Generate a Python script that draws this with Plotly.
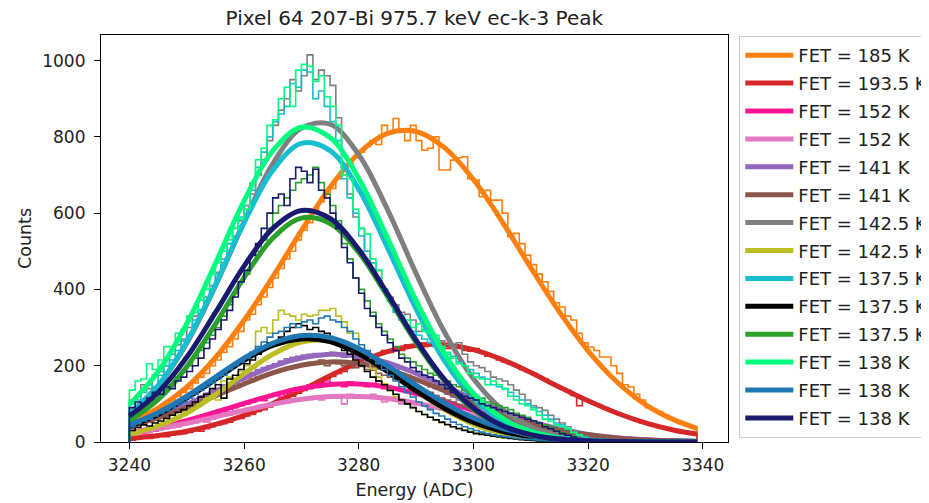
import plotly.graph_objects as go

# ---------------- data ----------------
HIST_START = 3240  # left edge of first 1-ADC bin
FIT_X = [3240, 3245, 3250, 3255, 3260, 3265, 3270, 3275, 3280, 3285, 3290,
         3295, 3300, 3305, 3310, 3315, 3320, 3325, 3330, 3335, 3339]

LABELS = ["FET = 185 K", "FET = 193.5 K", "FET = 152 K", "FET = 152 K",
          "FET = 141 K", "FET = 141 K", "FET = 142.5 K", "FET = 142.5 K",
          "FET = 137.5 K", "FET = 137.5 K", "FET = 137.5 K", "FET = 138 K",
          "FET = 138 K", "FET = 138 K"]
COLORS = ["#ff7f0e", "#d62728", "#ff1493", "#e377c2", "#9467bd", "#8c564b",
          "#7f7f7f", "#bcbd22", "#17becf", "#000000", "#2ca02c", "#00ff7f",
          "#1f77b4", "#191970"]

X_TICKS = [3240, 3260, 3280, 3300, 3320, 3340]
Y_TICKS = [0, 200, 400, 600, 800, 1000]

# histogram counts (1 ADC bins starting at 3240)
OR_HIST = [45, 60, 58, 70, 80, 88, 95, 110, 120, 130,
           140, 155, 170, 180, 200, 215, 235, 250, 270, 290,
           320, 335, 360, 380, 405, 430, 455, 480, 500, 530,
           555, 575, 600, 630, 650, 665, 690, 700, 730, 745,
           760, 775, 790, 780, 830, 810, 848, 820, 790, 830,
           790, 765, 770, 800, 713, 713, 739, 745, 748, 690,
           687, 643, 660, 634, 634, 600, 538, 547, 520, 490,
           465, 440, 420, 395, 365, 354, 330, 320, 285, 260,
           249, 240, 223, 223, 200, 180, 150, 144, 125, 110,
           90, 85, 80, 70, 62, 55, 48, 42, 38]
RD_HIST = [5, 8, 10, 9, 12, 15, 14, 18, 20, 22,
           25, 30, 28, 35, 40, 45, 48, 52, 60, 62,
           68, 72, 80, 85, 92, 100, 105, 112, 120, 128,
           135, 140, 150, 155, 165, 172, 180, 185, 195, 200,
           210, 215, 220, 228, 240, 235, 245, 240, 255, 250,
           260, 250, 255, 258, 250, 245, 255, 248, 240, 238,
           245, 235, 225, 225, 215, 210, 205, 200, 190, 185,
           180, 170, 165, 155, 148, 140, 135, 122, 95, 110,
           105, 100, 92, 85, 80, 72, 68, 62, 55, 50,
           48, 42, 38, 35, 32, 28, 25, 22, 20]
DP_HIST = [20, 25, 22, 30, 28, 35, 40, 38, 45, 48,
           55, 52, 60, 65, 70, 75, 80, 78, 90, 95,
           100, 105, 110, 108, 120, 125, 118, 130, 135, 140,
           138, 150, 145, 148, 160, 150, 155, 145, 158, 150,
           155, 145, 150, 160, 140, 145, 138, 135, 130, 128,
           125, 120, 118, 110, 108, 105, 100, 95, 90, 85,
           82, 78, 72, 68, 62, 60, 55, 50, 45, 42,
           40, 36, 32, 30, 27, 24, 20, 18, 16, 14,
           13, 11, 10, 9, 8, 7, 6, 5, 5, 4,
           4, 3, 3, 2, 2, 2, 1, 1, 1]
PK_HIST = [18, 22, 25, 24, 30, 32, 35, 38, 40, 45,
           48, 50, 55, 52, 60, 65, 68, 70, 75, 80,
           82, 85, 90, 95, 98, 100, 105, 102, 110, 108,
           112, 115, 118, 110, 120, 115, 122, 100, 125, 118,
           120, 115, 125, 118, 105, 112, 110, 100, 105, 98,
           100, 95, 88, 90, 85, 80, 75, 72, 70, 65,
           68, 60, 58, 55, 50, 48, 45, 40, 38, 35,
           36, 32, 28, 26, 24, 22, 20, 18, 16, 14,
           13, 12, 11, 10, 9, 8, 7, 6, 5, 5,
           4, 4, 3, 3, 2, 2, 2, 1, 1]
PU_HIST = [40, 48, 52, 60, 66, 70, 78, 85, 92, 98,
           105, 112, 120, 128, 135, 140, 150, 155, 165, 170,
           175, 182, 190, 195, 200, 205, 212, 218, 222, 225,
           228, 230, 232, 225, 230, 235, 228, 222, 225, 218,
           220, 212, 215, 205, 200, 195, 190, 180, 175, 165,
           160, 155, 145, 140, 135, 125, 118, 110, 105, 98,
           92, 85, 80, 75, 70, 65, 60, 55, 50, 46,
           42, 38, 35, 32, 28, 25, 22, 20, 18, 16,
           14, 12, 11, 10, 9, 8, 7, 6, 5, 5,
           4, 4, 3, 3, 3, 2, 2, 2, 1]
BR_HIST = [35, 42, 48, 52, 58, 62, 70, 75, 82, 88,
           92, 100, 108, 115, 120, 128, 135, 140, 148, 152,
           158, 165, 170, 175, 180, 185, 190, 195, 198, 202,
           205, 208, 210, 215, 200, 212, 205, 200, 210, 195,
           198, 190, 188, 180, 175, 170, 165, 160, 150, 145,
           140, 135, 130, 122, 115, 110, 105, 98, 92, 88,
           82, 78, 72, 68, 62, 58, 54, 50, 46, 42,
           38, 35, 32, 28, 25, 22, 20, 18, 16, 14,
           12, 11, 10, 9, 8, 7, 6, 5, 4, 4,
           3, 3, 3, 2, 2, 2, 1, 1, 1]
GR_HIST = [110, 120, 150, 140, 175, 185, 200, 230, 255, 270,
           300, 330, 345, 380, 410, 445, 470, 520, 540, 580,
           620, 650, 700, 740, 790, 830, 870, 900, 950, 920,
           960, 1015, 950, 975, 960, 935, 850, 720, 650, 590,
           560, 500, 470, 450, 400, 380, 360, 340, 335, 320,
           290, 295, 285, 270, 265, 255, 250, 260, 230, 210,
           200, 195, 185, 170, 165, 160, 150, 136, 125, 110,
           95, 90, 83, 70, 60, 50, 40, 30, 20, 15,
           10, 8, 5, 4, 3, 2, 1, 1, 0, 0,
           0, 0, 0, 0, 0, 0, 0, 0, 0]
OL_HIST = [22, 25, 28, 32, 38, 42, 48, 55, 62, 70,
           80, 90, 100, 115, 125, 110, 160, 170, 165, 185,
           200, 230, 290, 300, 285, 320, 345, 335, 330, 320,
           335, 330, 333, 345, 345, 350, 330, 315, 285, 285,
           241, 225, 193, 170, 153, 135, 120, 110, 100, 90,
           80, 72, 65, 58, 50, 45, 40, 36, 32, 28,
           25, 22, 20, 18, 15, 12, 10, 8, 7, 6,
           5, 4, 3, 3, 2, 2, 1, 1, 1, 0,
           0, 0, 0, 0, 0, 0, 0, 0, 0, 0,
           0, 0, 0, 0, 0, 0, 0, 0, 0]
CY_HIST = [100, 110, 130, 150, 145, 175, 200, 215, 240, 265,
           280, 320, 345, 370, 400, 440, 480, 520, 560, 590,
           620, 660, 720, 760, 800, 840, 860, 880, 940, 930,
           975, 970, 900, 920, 880, 840, 790, 690, 640, 600,
           540, 500, 470, 430, 400, 370, 340, 320, 305, 290,
           280, 270, 260, 250, 240, 230, 225, 210, 200, 190,
           180, 170, 165, 150, 145, 140, 130, 120, 110, 100,
           90, 80, 70, 60, 50, 45, 35, 25, 18, 12,
           8, 5, 3, 2, 1, 1, 0, 0, 0, 0,
           0, 0, 0, 0, 0, 0, 0, 0, 0]
BK_HIST = [30, 38, 45, 42, 50, 55, 62, 70, 78, 85,
           95, 105, 118, 125, 140, 150, 115, 165, 175, 190,
           205, 215, 230, 245, 260, 255, 275, 290, 300, 310,
           305, 295, 300, 290, 285, 270, 255, 240, 230, 215,
           200, 185, 170, 160, 150, 135, 125, 110, 100, 90,
           80, 72, 65, 58, 52, 46, 40, 35, 30, 26,
           22, 20, 18, 15, 13, 11, 9, 8, 6, 5,
           4, 3, 3, 2, 2, 1, 1, 1, 0, 0,
           0, 0, 0, 0, 0, 0, 0, 0, 0, 0,
           0, 0, 0, 0, 0, 0, 0, 0, 0]
GN_HIST = [70, 85, 90, 100, 110, 125, 140, 150, 170, 185,
           200, 220, 240, 260, 280, 300, 330, 360, 390, 420,
           440, 470, 500, 530, 560, 600, 620, 640, 660, 680,
           690, 700, 720, 680, 650, 620, 580, 520, 480, 430,
           400, 370, 340, 310, 290, 270, 250, 230, 220, 210,
           200, 190, 180, 175, 170, 160, 150, 145, 135, 125,
           120, 115, 105, 100, 95, 90, 85, 75, 70, 65,
           55, 50, 45, 38, 30, 25, 20, 15, 10, 8,
           5, 4, 3, 2, 1, 1, 0, 0, 0, 0,
           0, 0, 0, 0, 0, 0, 0, 0, 0]
SG_HIST = [136, 160, 165, 205, 190, 215, 250, 250, 285, 295,
           330, 340, 372, 400, 440, 470, 500, 530, 560, 585,
           610, 680, 740, 770, 830, 845, 900, 930, 880, 975,
           990, 985, 945, 960, 905, 880, 830, 700, 690, 610,
           560, 545, 480, 450, 400, 375, 350, 330, 320, 300,
           310, 290, 285, 280, 250, 235, 220, 205, 200, 180,
           170, 165, 150, 160, 150, 140, 120, 110, 100, 95,
           85, 70, 60, 55, 45, 40, 35, 25, 18, 10,
           8, 5, 4, 2, 2, 1, 0, 0, 0, 0,
           0, 0, 0, 0, 0, 0, 0, 0, 0]
BL_HIST = [40, 48, 55, 60, 68, 75, 82, 90, 98, 105,
           115, 125, 135, 145, 155, 165, 175, 190, 200, 210,
           220, 235, 250, 262, 275, 285, 290, 300, 310, 300,
           315, 320, 310, 325, 330, 320, 315, 300, 290, 270,
           255, 240, 220, 205, 190, 175, 160, 145, 130, 118,
           105, 95, 85, 75, 68, 60, 52, 46, 40, 35,
           30, 26, 22, 19, 16, 14, 12, 10, 8, 7,
           6, 5, 4, 3, 3, 2, 2, 1, 1, 1,
           0, 0, 0, 0, 0, 0, 0, 0, 0, 0,
           0, 0, 0, 0, 0, 0, 0, 0, 0]
NV_HIST = [90, 105, 100, 115, 130, 125, 145, 140, 160, 170,
           185, 200, 220, 245, 270, 295, 320, 345, 380, 420,
           450, 490, 520, 560, 600, 640, 650, 620, 690, 720,
           710, 680, 715, 660, 640, 600, 560, 510, 470, 430,
           390, 350, 330, 300, 280, 260, 240, 220, 210, 195,
           185, 175, 170, 160, 150, 140, 130, 125, 120, 115,
           110, 100, 95, 90, 85, 80, 75, 70, 65, 60,
           55, 50, 40, 35, 28, 22, 18, 13, 9, 6,
           4, 3, 2, 1, 1, 0, 0, 0, 0, 0,
           0, 0, 0, 0, 0, 0, 0, 0, 0]

OR_FIT = [51, 89, 144, 221, 319, 433, 554, 668, 757, 809, 814, 771, 688, 578, 457, 341, 239, 158, 98, 58, 36]
RD_FIT = [9, 17, 28, 46, 70, 101, 136, 174, 209, 237, 253, 255, 242, 216, 182, 144, 108, 76, 50, 31, 21]
DP_FIT = [24, 38, 56, 78, 101, 123, 141, 151, 152, 144, 127, 106, 83, 60, 41, 27, 16, 9, 5, 2, 1]
PK_FIT = [23, 35, 49, 66, 83, 99, 112, 119, 119, 114, 102, 86, 69, 53, 38, 25, 16, 10, 6, 3, 2]
PU_FIT = [46, 69, 99, 133, 167, 198, 220, 230, 225, 208, 180, 147, 112, 80, 54, 34, 20, 11, 6, 3, 2]
BR_FIT = [42, 63, 90, 121, 152, 181, 201, 210, 206, 190, 164, 134, 102, 73, 49, 31, 19, 10, 5, 3, 1]
GR_FIT = [75, 147, 259, 409, 577, 729, 823, 833, 753, 610, 442, 287, 166, 86, 40, 17, 6, 2, 1, 0, 0]
OL_FIT = [20, 42, 76, 124, 179, 230, 262, 265, 239, 190, 135, 85, 47, 23, 10, 4, 1, 0, 0, 0, 0]
CY_FIT = [74, 148, 262, 412, 575, 712, 783, 764, 663, 510, 349, 212, 114, 55, 23, 9, 3, 1, 0, 0, 0]
BK_FIT = [41, 72, 115, 164, 214, 253, 270, 263, 231, 185, 134, 88, 52, 28, 14, 6, 2, 1, 0, 0, 0]
GN_FIT = [56, 111, 197, 309, 431, 534, 587, 573, 497, 382, 261, 159, 85, 41, 17, 7, 2, 1, 0, 0, 0]
SG_FIT = [98, 184, 310, 468, 632, 763, 825, 798, 691, 535, 371, 230, 128, 63, 28, 11, 4, 1, 0, 0, 0]
BL_FIT = [45, 77, 120, 170, 220, 259, 279, 274, 245, 200, 149, 102, 63, 36, 18, 9, 4, 1, 1, 0, 0]
NV_FIT = [68, 130, 222, 339, 461, 560, 607, 586, 505, 389, 267, 163, 89, 43, 19, 7, 3, 1, 0, 0, 0]

HISTS = [OR_HIST, RD_HIST, DP_HIST, PK_HIST, PU_HIST, BR_HIST, GR_HIST,
         OL_HIST, CY_HIST, BK_HIST, GN_HIST, SG_HIST, BL_HIST, NV_HIST]
FITS = [OR_FIT, RD_FIT, DP_FIT, PK_FIT, PU_FIT, BR_FIT, GR_FIT,
        OL_FIT, CY_FIT, BK_FIT, GN_FIT, SG_FIT, BL_FIT, NV_FIT]

# ---------------- figure ----------------
W, H = 929, 503
OFF = 8  # page body margin offset of the figure div
# desired plot-area edges in screen pixels
L, R, T, B = 101, 727.7, 35, 441.7
l_m, t_m = L - OFF, T - OFF
r_m = W - (R - OFF)
b_m = H - (B - OFF)

fig = go.Figure()
for i, (name, color, hist, fit) in enumerate(zip(LABELS, COLORS, HISTS, FITS)):
    edges = list(range(HIST_START, HIST_START + len(hist) + 1))
    xs = [edges[0]] + edges[:-1] + [edges[-1], edges[-1]]
    ys = [0] + list(hist) + [hist[-1], 0]
    fig.add_trace(go.Scatter(
        x=xs, y=ys, mode="lines",
        line=dict(color=color, width=1.6, shape="hv"),
        showlegend=False, hoverinfo="skip", legendgroup=f"g{i}"))
    fig.add_trace(go.Scatter(
        x=FIT_X, y=fit, mode="lines", name=name, legendgroup=f"g{i}",
        line=dict(color=color, width=5, shape="spline", smoothing=1.0)))

axis_common = dict(
    showline=True, mirror=True, linecolor="black", linewidth=1.2,
    ticks="outside", ticklen=6, tickwidth=1.2, tickcolor="black",
    showgrid=False, zeroline=False, tickfont=dict(size=17, color="#222"),
)

fig.update_layout(
    width=W, height=H,
    margin=dict(l=l_m, r=r_m, t=t_m, b=b_m, pad=0, autoexpand=False),
    paper_bgcolor="white", plot_bgcolor="white",
    font=dict(family="DejaVu Sans", size=17, color="#222"),
    title=dict(text="Pixel 64 207-Bi 975.7 keV ec-k-3 Peak",
               x=((L + R) / 2 - OFF) / W, xanchor="center",
               y=1 - 3 / H, yanchor="top",
               font=dict(size=20, color="#222")),
    legend=dict(x=(739 - L) / (R - L), xanchor="left",
                y=(B - 36) / (B - T), yanchor="top",
                bordercolor="#cccccc", borderwidth=1, bgcolor="white",
                font=dict(size=18, color="#222"),
                traceorder="grouped", tracegroupgap=1.5, itemwidth=48),
    xaxis=dict(range=[3235.05, 3344.4], tickvals=X_TICKS, ticklabelstandoff=1,
               title=dict(text="Energy (ADC)", standoff=10, font=dict(size=17.5)),
               **axis_common),
    yaxis=dict(range=[0, 1067], tickvals=Y_TICKS, ticklabelstandoff=5,
               title=dict(text="Counts", standoff=6, font=dict(size=17.5)),
               **axis_common),
)

fig.write_html("out.html")
